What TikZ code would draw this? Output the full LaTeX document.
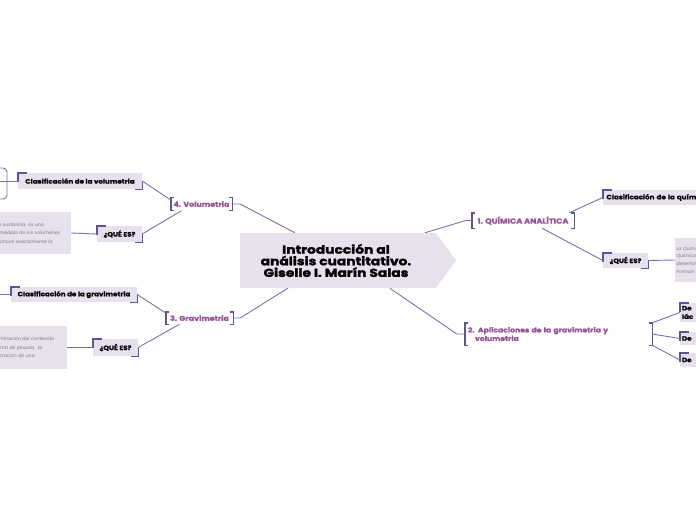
\documentclass[tikz,border=0pt]{standalone}
\usepackage{fontspec}
\setmainfont{Poppins}[FakeStretch=1.13, BoldFeatures={FakeBold=0.8}]
\newfontfamily\heavy{Poppins}[FakeStretch=1.2, BoldFeatures={FakeBold=2.2}]
\newfontfamily\plainf{Poppins}
\usetikzlibrary{calc}
\definecolor{boxC}{HTML}{E7E1EE}
\definecolor{brkC}{HTML}{5A5596}
\definecolor{lineC}{HTML}{7472B2}
\definecolor{purT}{HTML}{965096}
\definecolor{grayT}{HTML}{7A7A7A}
\tikzset{
  conn/.style={draw=lineC, line width=0.9pt},
  brkline/.style={draw=brkC, line width=1.4pt},
  fbox/.style={fill=boxC, inner sep=0pt},
  blabel/.style={fbox, font=\fontsize{6.3}{7}\selectfont\bfseries, text=black},
  plabel/.style={inner sep=0pt, font=\fontsize{7}{8}\selectfont\bfseries, text=purT},
  tbox/.style={fbox, font=\plainf\fontsize{4.6}{8.5}\selectfont\itshape, text=grayT, align=left},
}
\newcommand\brk[1]{%
  \draw[brkline] ([xshift=3pt]#1.north west) -- (#1.north west) -- (#1.south west) -- ([xshift=3pt]#1.south west);
  \draw[brkline] ([xshift=-3pt]#1.north east) -- (#1.north east) -- (#1.south east) -- ([xshift=-3pt]#1.south east);}
\newcommand\crn[1]{%
  \draw[brkline] ([yshift=-9pt]#1.north west) -- (#1.north west) -- ([xshift=9pt]#1.north west);
  \draw[brkline] ([yshift=8pt]#1.south east) -- (#1.south east) -- ([xshift=-7pt]#1.south east);}
\begin{document}
\begin{tikzpicture}[x=1pt,y=-1pt]
\clip (0,0) rectangle (696,520);
\fill[white] (0,0) rectangle (696,520);

% central
\fill[boxC] (240,233) -- (436,233) -- (456,260.5) -- (436,288) -- (240,288) -- cycle;
\node[inner sep=0pt, minimum width=196pt, minimum height=55pt, align=center,
  font=\heavy\fontsize{11.5}{11.6}\selectfont\bfseries] (c) at (336,260.5)
  {Introducción al\\análisis cuantitativo.\\Giselle I. Marín Salas};

% ---- volumetria
\node[plabel, minimum width=61pt, minimum height=13pt] (vol) at (201.5,204) {4. Volumetria};
\brk{vol}
\node[blabel, minimum width=124pt, minimum height=16pt] (cv) at (80,181) {Clasificación de la volumetria};
\crn{cv}
\node[blabel, minimum width=45pt, minimum height=16pt] (qv) at (119.5,234) {¿QUÉ ES?};
\crn{qv}
\node[tbox, minimum width=91pt, minimum height=42pt, text width=86pt] (tv) at (25.5,233)
  {\hspace*{16pt}o sustancia. Es una\\\hspace*{13pt}y medida de los volúmenes\\\hspace*{8pt}se conoce exactamente la};
\coordinate (lbv) at (0,181);
\draw[conn, rounded corners=4pt] (-5,168) -- (7,168) -- (7,199) -- (-5,199);
\draw[conn] (cv.west) -- (lbv);
\draw[conn] (cv.east) -- ([yshift=4pt]vol.west);
\draw[conn] (qv.east) -- ([xshift=-20pt]vol.south);
\draw[conn] (qv.west) -- (tv.east);
\draw[conn] (vol.east) -- ([xshift=8pt]vol.east) -- ([xshift=57pt]c.north west);

% ---- gravimetria
\node[plabel, minimum width=67pt, minimum height=12pt] (gra) at (199.5,318) {3. Gravimetria};
\brk{gra}
\node[blabel, minimum width=126pt, minimum height=15pt] (cg) at (74,294.5) {Clasificación de la gravimetria};
\crn{cg}
\node[blabel, minimum width=45pt, minimum height=17pt] (qg) at (115.5,347.5) {¿QUÉ ES?};
\crn{qg}
\node[tbox, minimum width=87pt, minimum height=43pt, text width=84pt] (tg) at (23.5,347.5)
  {\hspace*{16pt}rminación del contenido\\\hspace*{17pt}rma de pesado. Es\\\hspace*{16pt}ntración de una};
\coordinate (lbg) at (0,294.5);
\draw[conn] (cg.west) -- (lbg);
\draw[conn] (cg.east) -- ([yshift=5pt]gra.west);
\draw[conn] (qg.east) -- ([xshift=-20pt]gra.south);
\draw[conn] (qg.west) -- (tg.east);
\draw[conn] (gra.east) -- ([xshift=7pt]gra.east) -- ([xshift=50pt]c.south west);

% ---- quimica analitica
\node[plabel, minimum width=102pt, minimum height=15pt, font=\fontsize{7.3}{8}\selectfont\bfseries] (qa) at (523,220.5) {1. QUÍMICA ANALÍTICA};
\brk{qa}
\node[blabel, minimum width=117pt, minimum height=15pt, text width=110pt, align=left] (cq) at (661.5,197.5) {Clasificación de la química};
\crn{cq}
\node[blabel, minimum width=45pt, minimum height=15pt] (qq) at (625.5,260.5) {¿QUÉ ES?};
\crn{qq}
\node[tbox, minimum width=45pt, minimum height=44pt, text width=42pt, font=\plainf\fontsize{4.6}{7.8}\selectfont\itshape] (tq) at (697.5,260)
  {La Química\\Química\\determinación\\Forman};
\draw[conn] ([xshift=187pt]c.north west) -- ([xshift=-6pt]qa.west) -- (qa.west);
\draw[conn] ([xshift=-5pt]qa.north east) -- (cq.west);
\draw[conn] ([xshift=19pt]qa.south) -- (qq.west);
\draw[conn] (qq.east) -- (tq.west);

% ---- aplicaciones
\node[plabel, minimum width=187pt, minimum height=22pt, text width=181pt, align=left,
  font=\fontsize{6.8}{8.5}\selectfont\bfseries] (ap) at (558.5,334)
  {2. Aplicaciones de la gravimetria y\\\hspace*{7pt}volumetria};
\brk{ap}
\node[blabel, minimum width=40pt, minimum height=19pt, text width=36pt, align=left, font=\fontsize{6.3}{8.5}\selectfont\bfseries] (d1) at (700,312.5) {De\\lác};
\crn{d1}
\node[blabel, minimum width=40pt, minimum height=13pt, text width=36pt, align=left] (d2) at (700,338.5) {De};
\crn{d2}
\node[blabel, minimum width=40pt, minimum height=14pt, text width=36pt, align=left] (d3) at (700,360) {De};
\crn{d3}
\draw[conn] ([xshift=152pt]c.south west) -- ([xshift=-8pt]ap.west) -- (ap.west);
\draw[conn] (ap.north east) -- (d1.west);
\draw[conn] (ap.east) -- (d2.west);
\draw[conn] (ap.south east) -- (d3.west);
\end{tikzpicture}
\end{document}
